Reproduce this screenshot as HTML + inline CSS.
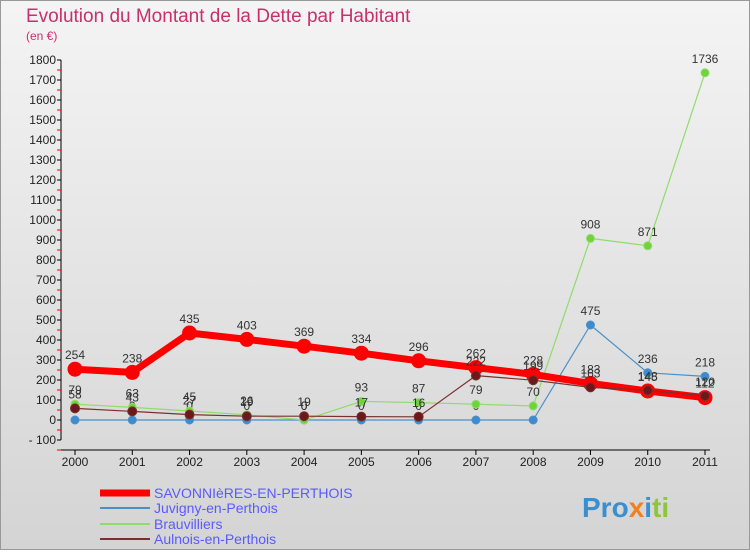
<!DOCTYPE html>
<html><head><meta charset="utf-8"><style>
body{margin:0;width:750px;height:550px;overflow:hidden;font-family:"Liberation Sans",sans-serif}
</style></head><body>
<svg width="750" height="550" xmlns="http://www.w3.org/2000/svg">
<defs><linearGradient id="bg" x1="0" y1="0" x2="0" y2="1"><stop offset="0" stop-color="#f4f4f4"/><stop offset="1" stop-color="#d4d4d4"/></linearGradient></defs>
<rect x="0.5" y="0.5" width="749" height="549" fill="url(#bg)" stroke="#999"/>
<text x="26" y="22" font-size="19" fill="#c8306a">Evolution du Montant de la Dette par Habitant</text>
<text x="26" y="40" font-size="12" fill="#c8306a">(en €)</text>
<g id="axes"></g><g id="series"></g><g id="legend"></g>
<text x="582" y="517" font-size="28" font-weight="bold" fill="#3a8fd0">Pro<tspan fill="#f08020">x</tspan><tspan fill="#3a8fd0">i</tspan><tspan fill="#8cc63f">ti</tspan></text>
</svg>
<script>
const years=[2000,2001,2002,2003,2004,2005,2006,2007,2008,2009,2010,2011];
const savonnieres=[254,238,435,403,369,334,296,262,228,183,145,112];
const juvigny=[0,0,0,0,0,0,0,0,0,475,236,218];
const brauvilliers=[79,63,45,26,0,93,87,79,70,908,871,1736];
const aulnois=[58,43,27,19,19,17,16,222,199,163,148,120];
const yTicks=[-100,0,100,200,300,400,500,600,700,800,900,1000,1100,1200,1300,1400,1500,1600,1700,1800];
const NS='http://www.w3.org/2000/svg';
const X=i=>75+i*(630/11), Y=v=>420-v*0.2;
function mk(t,a,p){const e=document.createElementNS(NS,t);for(const k in a)e.setAttribute(k,a[k]);p.appendChild(e);return e;}
const ax=document.getElementById('axes');
const yl=mk('line',{x1:61,y1:Y(1800),x2:61,y2:Y(-100),stroke:'#000'},ax);


yTicks.forEach(v=>{
 const t=mk('line',{x1:57,y1:Y(v),x2:61,y2:Y(v),stroke:'#000'},ax);
 
 
 const m=mk('line',{x1:57,y1:Y(v)+10,x2:61,y2:Y(v)+10,stroke:'#e00'},ax);
 
 
 const l=mk('text',{x:56,y:Y(v)+4,'text-anchor':'end','font-size':12,fill:'#222'},ax);
 l.textContent=v<0?'- '+(-v):v;
 
 
});
const xl=mk('line',{x1:61,y1:450,x2:710,y2:450,stroke:'#000'},ax);


years.forEach((y,i)=>{
 const t=mk('line',{x1:X(i),y1:450,x2:X(i),y2:455,stroke:'#000'},ax);
 
 
 const l=mk('text',{x:X(i),y:466,'text-anchor':'middle','font-size':12,fill:'#222'},ax);
 l.textContent=y;
 
 
});
const sg=document.getElementById('series');
function draw(name,data,color,w,r,dot){
 const g=mk('g',{},sg);
 
 
 const p=mk('polyline',{points:data.map((v,i)=>X(i)+','+Y(v)).join(' '),fill:'none',stroke:color,'stroke-width':w,'stroke-linejoin':'round'},g);
 
 
 data.forEach((v,i)=>{
  const c=mk('circle',{cx:X(i),cy:Y(v),r:r,fill:dot,stroke:color,'stroke-width':1},g);
  
  
  const t=mk('text',{x:X(i),y:Y(v)-10,'text-anchor':'middle','font-size':12,fill:'#333'},g);
  t.textContent=v;
  
  
 });
}
draw('juvigny',juvigny,'#4a90c8',1.2,4,'#3d8ccf');
draw('brauvilliers',brauvilliers,'#8fdc6a',1.2,4,'#6fd43a');
draw('savonnieres',savonnieres,'#ff0000',7,7,'#f00');
draw('aulnois',aulnois,'#7a3030',1.2,4.5,'#6a1a1a');
const lg=document.getElementById('legend');
[['SAVONNIèRES-EN-PERTHOIS','#f00',7,493],['Juvigny-en-Perthois','#4a90c8',2,508],['Brauvilliers','#8fdc6a',2,524],['Aulnois-en-Perthois','#7a3030',2,539]].forEach(d=>{
 const g=mk('g',{},lg);
 
 
 mk('line',{x1:100,y1:d[3],x2:150,y2:d[3],stroke:d[1],'stroke-width':d[2]},g);
 const t=mk('text',{x:154,y:d[3]+5,'font-size':14,fill:'#5a5aff'},g);
 t.textContent=d[0];
});
</script>
</body></html>
